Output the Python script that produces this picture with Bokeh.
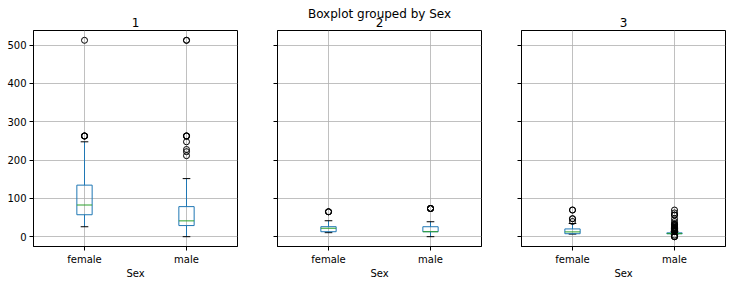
from bokeh.plotting import figure
from bokeh.layouts import row
from bokeh.models import Range1d, FixedTicker, Title
from bokeh.embed import file_html
from bokeh.resources import INLINE

# Fare distribution per passenger class, split by sex
classes = ["1", "2", "3"]
sexes = ["female", "male"]

# Box statistics, one [female, male] pair per class
whisker_low = [[25.93, 0.0], [10.5, 0.0], [6.75, 6.24]]
fare_q1 = [[57.24, 29.0], [13.0, 13.0], [7.75, 7.75]]
fare_median = [[82.66, 41.26], [22.0, 13.0], [12.475, 7.925]]
fare_q3 = [[134.5, 78.46], [26.06, 26.0], [20.22, 10.01]]
whisker_high = [[247.52, 151.55], [41.58, 39.0], [34.375, 13.42]]

# Fliers beyond the whiskers
outliers_1_female = [262.375, 262.375, 263.0, 263.0, 512.33]
outliers_1_male = [211.34, 221.78, 227.53, 247.52, 262.375, 263.0, 263.0, 512.33, 512.33]
outliers_2_female = [65.0, 65.0, 65.0]
outliers_2_male = [73.5, 73.5, 73.5, 73.5, 73.5]
outliers_3_female = [39.69, 46.9, 46.9, 69.55, 69.55]
outliers_3_male = [0.0, 0.0, 0.0, 4.01, 14.1, 14.45, 14.5, 15.1, 15.25, 15.5, 15.74,
                   15.85, 16.1, 16.7, 17.8, 18.0, 18.79, 19.26, 19.97, 20.21, 20.25,
                   20.52, 20.58, 21.07, 21.68, 22.02, 23.25, 23.45, 24.15, 25.47,
                   27.9, 29.12, 31.27, 31.39, 34.38, 39.69, 46.9, 56.5, 56.5, 62.0,
                   69.55]
outliers = [[outliers_1_female, outliers_1_male],
            [outliers_2_female, outliers_2_male],
            [outliers_3_female, outliers_3_male]]

y_ticks = [0, 100, 200, 300, 400, 500]
heading = "Boxplot grouped by Sex"

FONT = "DejaVu Sans"
BLUE = "#1f77b4"
GREEN = "#2ca02c"
BOX_HALF = 0.075
CAP_HALF = 0.0375


def style_title(t):
    t.align = "center"
    t.text_font = FONT
    t.text_font_size = "12px"
    t.text_font_style = "normal"
    t.text_color = "black"


def make_panel(i, width, border_left, border_right, show_ylabels, heading_text=None):
    p = figure(width=width, height=284,
               x_range=Range1d(0.5, 2.5), y_range=Range1d(-25.6, 537.9),
               output_backend="svg", toolbar_location=None,
               min_border_left=border_left, min_border_right=border_right,
               min_border_top=30, min_border_bottom=38)
    style_title(p.title)
    if heading_text is None:
        p.title.text = classes[i]
        p.title.standoff = 7
    else:
        # the plot's own title sits outermost; pull it down onto the panel title
        p.title.text = heading_text
        p.title.standoff = -16
        sub = Title(text=classes[i], standoff=7)
        style_title(sub)
        p.add_layout(sub, "above")

    p.outline_line_color = "black"
    p.outline_line_width = 1
    p.outline_line_alpha = 1

    xs = [k + 1 for k in range(len(sexes))]
    p.xaxis.ticker = FixedTicker(ticks=xs)
    p.xaxis.major_label_overrides = {x: s for x, s in zip(xs, sexes)}
    p.xaxis.axis_label = "Sex"
    p.yaxis.ticker = FixedTicker(ticks=y_ticks)
    for ax in (p.xaxis, p.yaxis):
        ax.major_tick_in = 0
        ax.major_tick_out = 4
        ax.minor_tick_line_color = None
        ax.major_label_standoff = 3
        ax.major_label_text_font = FONT
        ax.major_label_text_font_size = "10px"
        ax.major_label_text_color = "black"
        ax.axis_label_text_font = FONT
        ax.axis_label_text_font_size = "10px"
        ax.axis_label_text_font_style = "normal"
        ax.axis_label_text_color = "black"
        ax.axis_label_standoff = 0
        ax.axis_line_color = "black"
        ax.major_tick_line_color = "black"
    if not show_ylabels:
        # shared y scale: ticks only, no labels
        p.yaxis.major_label_overrides = {t: "" for t in y_ticks}
        p.yaxis.major_label_standoff = 0

    p.grid.grid_line_color = "#b0b0b0"
    p.grid.grid_line_width = 0.8

    lo, q1, med, q3, hi = (whisker_low[i], fare_q1[i], fare_median[i],
                           fare_q3[i], whisker_high[i])
    # whiskers
    p.segment(x0=xs, x1=xs, y0=q3, y1=hi, line_color=BLUE, line_width=1)
    p.segment(x0=xs, x1=xs, y0=q1, y1=lo, line_color=BLUE, line_width=1)
    # caps
    p.segment(x0=[x - CAP_HALF for x in xs], x1=[x + CAP_HALF for x in xs],
              y0=hi, y1=hi, line_color="black", line_width=1)
    p.segment(x0=[x - CAP_HALF for x in xs], x1=[x + CAP_HALF for x in xs],
              y0=lo, y1=lo, line_color="black", line_width=1)
    # boxes
    p.vbar(x=xs, width=2 * BOX_HALF, bottom=q1, top=q3,
           fill_color=None, line_color=BLUE, line_width=1)
    # medians
    p.segment(x0=[x - BOX_HALF for x in xs], x1=[x + BOX_HALF for x in xs],
              y0=med, y1=med, line_color=GREEN, line_width=1)
    # fliers
    fx, fy = [], []
    for x, vals in zip(xs, outliers[i]):
        fx += [x] * len(vals)
        fy += vals
    p.scatter(x=fx, y=fy, marker="circle", size=6, fill_color=None,
              line_color="black", line_width=1)
    return p


p1 = make_panel(0, 257, 33, 20, True)
p2 = make_panel(1, 244, 20, 20, False, heading_text=heading)
p3 = make_panel(2, 230, 20, 6, False)

layout = row(p1, p2, p3, spacing=0)
open("out.html", "w").write(file_html(layout, INLINE))
